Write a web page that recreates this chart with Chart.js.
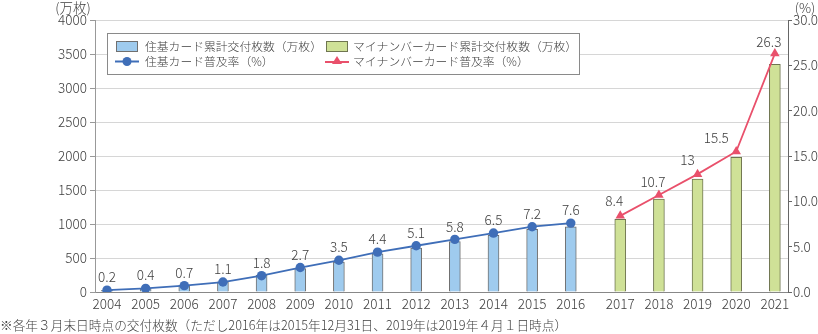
<!DOCTYPE html>
<html><head><meta charset="utf-8">
<script src="https://cdn.jsdelivr.net/npm/chart.js@4"></script>
<style>html,body{margin:0;padding:0;background:#fff}#wrap{width:818px;height:334px;position:relative}</style>
</head><body><div id="wrap"><canvas id="c" width="818" height="334"></canvas></div>
<script>
const jukiYears = ['2004','2005','2006','2007','2008','2009','2010','2011','2012','2013','2014','2015','2016'];
const myYears = ['2017','2018','2019','2020','2021'];
const jukiCards = [25, 50, 100, 150, 250, 345, 440, 560, 645, 740, 835, 920, 960];
const jukiRate = [0.2, 0.4, 0.7, 1.1, 1.8, 2.7, 3.5, 4.4, 5.1, 5.8, 6.5, 7.2, 7.6];
const myCards = [1069, 1366, 1662, 1981, 3349];
const myRate = [8.4, 10.7, 13, 15.5, 26.3];
const leftTicks = [0, 500, 1000, 1500, 2000, 2500, 3000, 3500, 4000];
const rightTicks = [0, 5, 10, 15, 20, 25, 30];
const labels = {
  jukiBar: '住基カード累計交付枚数（万枚）',
  jukiLine: '住基カード普及率（%）',
  myBar: 'マイナンバーカード累計交付枚数（万枚）',
  myLine: 'マイナンバーカード普及率（%）',
  leftUnit: '(万枚)', rightUnit: '(%)',
  note: '※各年３月末日時点の交付枚数（ただし2016年は2015年12月31日、2019年は2019年４月１日時点）'
};

const GAP = 0.28;
const allYears = jukiYears.concat(myYears);
const xPos = allYears.map((y, i) => i < jukiYears.length ? i : i + GAP);
const jukiX = xPos.slice(0, jukiYears.length);
const myX = xPos.slice(jukiYears.length);
const pts = (xs, ys) => ys.map((v, i) => ({x: xs[i], y: v}));

const FONT = "'Noto Sans CJK JP', 'Noto Sans', sans-serif";
const TXT = '#404040';
const BLUE_FILL = '#9fcbee', BLUE_LINE = '#3f6eb8';
const GREEN_FILL = '#cfe197', RED = '#e9506b';
const TICKFONT = {family: FONT, size: 13.5, weight: 300};

const extras = {
  id: 'extras',
  afterDatasetsDraw(chart) {
    const ctx = chart.ctx;
    ctx.save();
    ctx.font = '300 13.5px ' + FONT;
    ctx.fillStyle = TXT;
    ctx.textAlign = 'center';
    ctx.textBaseline = 'middle';
    const m2 = chart.getDatasetMeta(2), m3 = chart.getDatasetMeta(3);
    m2.data.forEach((p, i) => ctx.fillText(String(jukiRate[i]), p.x, p.y - 13));
    const myDx = [-6, -6, -10, -20, -6];
    const myDy = [-15, -13, -14, -14, -12];
    m3.data.forEach((p, i) => ctx.fillText(String(myRate[i]), p.x + myDx[i], p.y + myDy[i]));
    // axis units
    ctx.fillText(labels.leftUnit, 73, 8);
    ctx.fillText(labels.rightUnit, 805, 8);
    // legend
    ctx.fillStyle = '#fff';
    ctx.strokeStyle = '#8a8a8a';
    ctx.lineWidth = 1;
    ctx.fillRect(107.5, 33.5, 472, 41);
    ctx.strokeRect(107.5, 33.5, 472, 41);
    ctx.fillStyle = BLUE_FILL; ctx.strokeStyle = '#707070';
    ctx.fillRect(116.5, 41.5, 21, 10); ctx.strokeRect(116.5, 41.5, 21, 10);
    ctx.fillStyle = GREEN_FILL; ctx.strokeStyle = '#6f7550';
    ctx.fillRect(326.5, 41.5, 21, 10); ctx.strokeRect(326.5, 41.5, 21, 10);
    ctx.strokeStyle = BLUE_LINE; ctx.lineWidth = 2;
    ctx.beginPath(); ctx.moveTo(115, 61.5); ctx.lineTo(139, 61.5); ctx.stroke();
    ctx.fillStyle = BLUE_LINE;
    ctx.beginPath(); ctx.arc(127, 61.5, 4.5, 0, Math.PI * 2); ctx.fill();
    ctx.strokeStyle = RED;
    ctx.beginPath(); ctx.moveTo(325, 62); ctx.lineTo(349, 62); ctx.stroke();
    ctx.fillStyle = RED;
    ctx.beginPath(); ctx.moveTo(337, 56); ctx.lineTo(342, 64); ctx.lineTo(332, 64); ctx.closePath(); ctx.fill();
    ctx.fillStyle = TXT;
    ctx.textAlign = 'left';
    ctx.font = '300 11.8px ' + FONT;
    ctx.fillText(labels.jukiBar, 145, 47);
    ctx.fillText(labels.jukiLine, 145, 62);
    ctx.fillText(labels.myBar, 353, 47);
    ctx.fillText(labels.myLine, 353, 62);
    // footnote
    ctx.font = '300 12.7px ' + FONT;
    ctx.fillText(labels.note, 0, 325);
    ctx.restore();
  }
};

new Chart(document.getElementById('c'), {
  type: 'bar',
  data: {
    datasets: [
      {type: 'bar', label: labels.jukiBar, data: pts(jukiX, jukiCards), backgroundColor: BLUE_FILL, borderColor: '#707070', borderWidth: 1, barThickness: 11, grouped: false, yAxisID: 'y', order: 2},
      {type: 'bar', label: labels.myBar, data: pts(myX, myCards), backgroundColor: GREEN_FILL, borderColor: '#6f7550', borderWidth: 1, barThickness: 11, grouped: false, yAxisID: 'y', order: 2},
      {type: 'line', label: labels.jukiLine, data: pts(jukiX, jukiRate), borderColor: BLUE_LINE, backgroundColor: BLUE_LINE, borderWidth: 1.8, pointRadius: 4.7, pointHoverRadius: 4.7, pointBorderWidth: 0, yAxisID: 'y2', order: 0},
      {type: 'line', label: labels.myLine, data: pts(myX, myRate), borderColor: RED, backgroundColor: RED, borderWidth: 1.8, pointStyle: 'triangle', pointRadius: 5.5, pointHoverRadius: 5.5, pointBorderWidth: 0, yAxisID: 'y2', order: 0}
    ]
  },
  options: {
    responsive: false, animation: false, parsing: true,
    layout: {padding: {top: 20, bottom: 20, left: 0, right: 0}},
    plugins: {legend: {display: false}, tooltip: {enabled: false}},
    scales: {
      x: {
        type: 'linear', min: -0.31, max: 17.62, offset: false,
        afterBuildTicks: s => { s.ticks = xPos.map(v => ({value: v})); },
        afterFit: s => { s.height = 22; },
        grid: {display: false, drawTicks: false},
        border: {display: true, color: '#888', width: 1},
        ticks: {autoSkip: false, maxRotation: 0, padding: 4, color: TXT, font: TICKFONT,
          callback: (v, i) => allYears[i]}
      },
      y: {
        position: 'left', min: 0, max: 4000,
        afterBuildTicks: s => { s.ticks = leftTicks.map(v => ({value: v})); },
        afterFit: s => { s.width = 95; },
        grid: {color: '#d6d6d6', lineWidth: 1, tickLength: 5, tickColor: '#999'},
        border: {display: true, color: '#999', width: 1},
        ticks: {padding: 3, color: TXT, font: TICKFONT, callback: v => String(v)}
      },
      y2: {
        position: 'right', min: 0, max: 30,
        afterBuildTicks: s => { s.ticks = rightTicks.map(v => ({value: v})); },
        afterFit: s => { s.width = 30; },
        grid: {drawOnChartArea: false, tickLength: 4, tickColor: '#666'},
        border: {display: true, color: '#666', width: 1},
        ticks: {padding: 1, color: TXT, font: TICKFONT, callback: v => v.toFixed(1)}
      }
    }
  },
  plugins: [extras]
});
</script></body></html>
